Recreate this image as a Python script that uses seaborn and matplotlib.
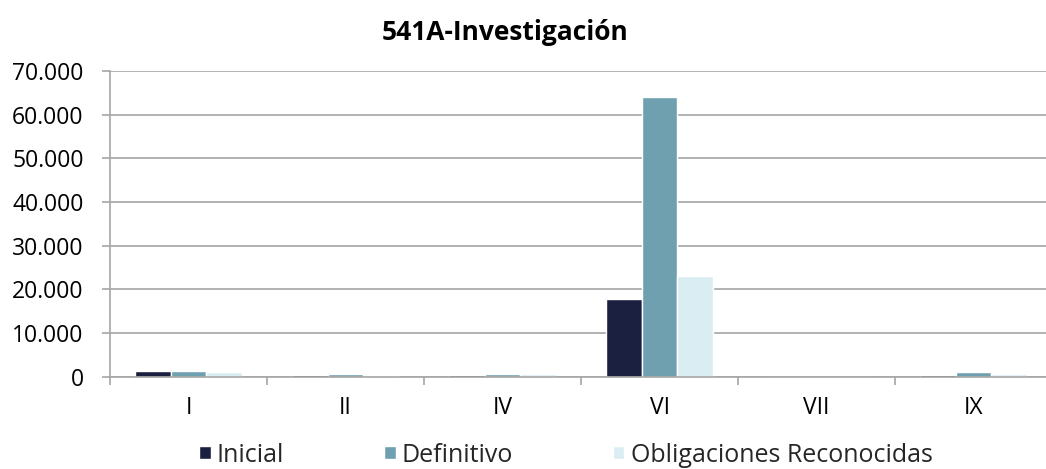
import matplotlib
matplotlib.use("Agg")
import matplotlib.pyplot as plt
from matplotlib.ticker import FuncFormatter, FixedLocator
import seaborn as sns
import pandas as pd

# Chapters of the programme budget
capitulos = ["I", "II", "IV", "VI", "VII", "IX"]

# Amounts per chapter (thousands of euros)
inicial = [1300, 300, 300, 17750, 0, 300]
definitivo = [1300, 600, 600, 64150, 0, 1100]
obligaciones = [1000, 500, 600, 23050, 0, 600]

series = ["Inicial", "Definitivo", "Obligaciones Reconocidas"]
colores = ["#1b1f40", "#6fa0b0", "#daedf3"]

df = pd.DataFrame({
    "capitulo": capitulos * 3,
    "serie": [s for s in series for _ in capitulos],
    "valor": inicial + definitivo + obligaciones,
})

sns.set_theme(style="white")
plt.rcParams["font.family"] = ["Open Sans", "DejaVu Sans"]

fig = plt.figure(figsize=(10.46, 4.69), dpi=100)
ax = fig.add_axes([110 / 1046, 1 - 376.7 / 469, 942 / 1046, (376.7 - 71) / 469])

sns.barplot(data=df, x="capitulo", y="valor", hue="serie", order=capitulos,
            hue_order=series, palette=colores, width=0.68, saturation=1,
            edgecolor="white", linewidth=1.0, ax=ax, legend=True)

ax.set_xlim(-0.5, len(capitulos) - 0.5)
ax.set_ylim(0, 70000)
ax.set_yticks(range(0, 70001, 10000))
ax.yaxis.set_major_formatter(FuncFormatter(lambda v, p: f"{int(v):,}".replace(",", ".")))
ax.set_xlabel("")
ax.set_ylabel("")

grid_color = "#a6a6a6"
ax.yaxis.grid(True, color=grid_color, linewidth=1.2)
ax.set_axisbelow(True)
for side in ["top", "right"]:
    ax.spines[side].set_visible(False)
ax.spines["left"].set_color(grid_color)
ax.spines["bottom"].set_color(grid_color)
ax.spines["left"].set_linewidth(1.2)
ax.spines["bottom"].set_linewidth(1.2)

ax.tick_params(axis="y", which="major", length=6, width=1.2, color=grid_color,
               direction="out", labelsize=16.5, labelcolor="black", pad=13, left=True)
ax.tick_params(axis="x", which="major", length=0, labelsize=16.5, labelcolor="black", pad=14)
ax.xaxis.set_minor_locator(FixedLocator([i + 0.5 for i in range(-1, len(capitulos))]))
ax.tick_params(axis="x", which="minor", length=6, width=1.2, color=grid_color,
               direction="out", bottom=True)

handles, labels = ax.get_legend_handles_labels()
ax.get_legend().remove()
fig.legend(handles, labels, loc="center", bbox_to_anchor=(566 / 1046, 1 - 455 / 469),
           ncol=3, frameon=False, fontsize=18, handlelength=0.45, handleheight=0.45,
           handletextpad=0.25, columnspacing=4.0, borderaxespad=0)

fig.text(505 / 1046, 1 - 32 / 469, "541A-Investigación", ha="center", va="center",
         fontsize=19, fontweight="bold", color="black")

fig.savefig("out.png", dpi=100)
